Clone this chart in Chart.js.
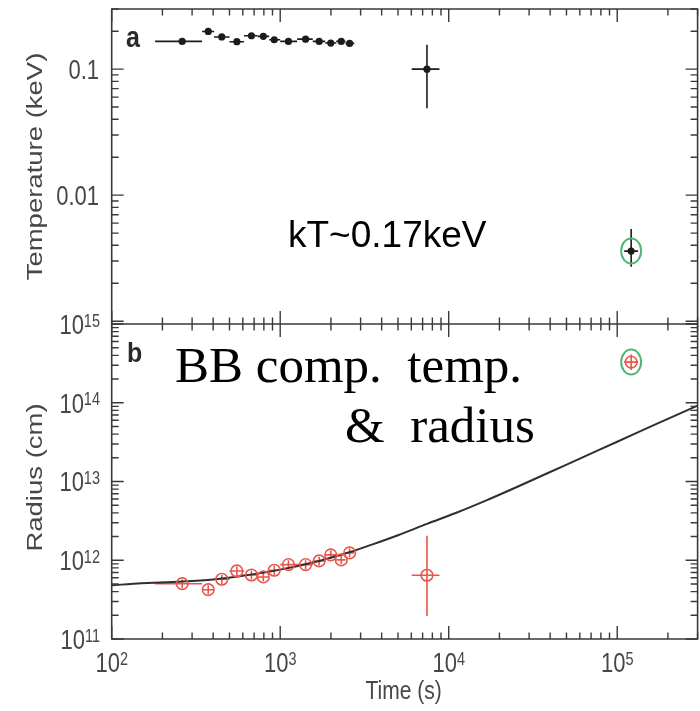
<!DOCTYPE html>
<html>
<head>
<meta charset="utf-8">
<script src="https://cdn.jsdelivr.net/npm/chart.js@4.4.0/dist/chart.umd.min.js"></script>
<style>
  html, body { margin: 0; padding: 0; background: #fff; overflow: hidden; }
  canvas { display: block; }
</style>
</head>
<body>
<canvas id="bb" width="705" height="711"></canvas>
<script>
// observation times (s) and the time bins they cover
const times = [262, 374, 450, 553, 675, 794, 922, 1119, 1415, 1703, 1995, 2303, 2582, 7430, 121000];
const binLo = [181, 344, 405, 500, 610, 735, 860, 1000, 1260, 1560, 1850, 2150, 2440, 6030, 110000];
const binHi = [344, 405, 500, 610, 735, 860, 1000, 1260, 1560, 1850, 2150, 2440, 2750, 8810, 133000];

// blackbody temperature (keV)
const kT   = [0.166, 0.199, 0.180, 0.165, 0.184, 0.182, 0.171, 0.166, 0.173, 0.166, 0.161, 0.166, 0.160, 0.100, 0.0036];
const kTLo = [0.160, 0.192, 0.173, 0.158, 0.177, 0.175, 0.164, 0.159, 0.166, 0.159, 0.154, 0.159, 0.153, 0.049, 0.0027];
const kTHi = [0.172, 0.206, 0.187, 0.172, 0.191, 0.189, 0.178, 0.173, 0.180, 0.173, 0.168, 0.173, 0.167, 0.156, 0.0054];

// blackbody radius (cm)
const radius = [5.04e11, 4.23e11, 5.74e11, 7.31e11, 6.5e11, 6.14e11, 7.46e11, 8.8e11, 8.8e11, 9.8e11, 1.17e12, 1.01e12, 1.24e12, 6.45e11, 3.28e14];
const radLo  = [4.4e11, 3.7e11, 5.0e11, 6.4e11, 5.7e11, 5.4e11, 6.5e11, 7.7e11, 7.7e11, 8.6e11, 1.03e12, 0.89e12, 1.09e12, 1.96e11, 2.6e14];
const radHi  = [5.7e11, 4.8e11, 6.5e11, 8.3e11, 7.4e11, 7.0e11, 8.5e11, 1.0e12, 1.0e12, 1.11e12, 1.33e12, 1.15e12, 1.41e12, 2.04e12, 4.1e14];

// late observation marked with a ring
const ringed = [14];

// expanding-photosphere model curve
const modelTime   = [100, 150, 250, 400, 600, 1000, 1700, 2600, 3500, 5000, 7500, 11000, 17000, 25000, 40000, 60000, 100000, 170000, 300000];
const modelRadius = [4.81e11, 5.1e11, 5.35e11, 5.7e11, 6.35e11, 7.6e11, 9.8e11, 1.27e12, 1.58e12, 2.08e12, 2.92e12, 3.98e12, 5.85e12, 8.4e12, 1.32e13, 1.95e13, 3.2e13, 5.35e13, 9.2e13];

// axis labels
const xMajor = [1e2, 1e3, 1e4, 1e5];
const xMajorExp = ['2', '3', '4', '5'];
const tempMajor = [0.01, 0.1];
const tempLabels = ['0.01', '0.1'];
const radMajor = [1e11, 1e12, 1e13, 1e14, 1e15];
const radExp = ['11', '12', '13', '14', '15'];

const RED = '#e8554c';
const GREEN = '#52b677';
const AXIS = '#3a3a3a';
const LABEL = '#474747';
const SANS = '"Liberation Sans", Arial, sans-serif';

function pts(ys) { return times.map((t, i) => ({ x: t, y: ys[i] })); }

function logSteps(min, max) {
  const out = [];
  for (let e = Math.floor(Math.log10(min)); e <= Math.ceil(Math.log10(max)); e++) {
    for (let m = 1; m < 10; m++) {
      const v = m * Math.pow(10, e);
      if (v >= min * 0.999 && v <= max * 1.001) out.push({ v: v, major: m === 1 });
    }
  }
  return out;
}

// text squeezed like the original figure lettering
function tallText(ctx, str, x, y, sy, align) {
  ctx.save();
  ctx.translate(x, y);
  ctx.scale(1, sy);
  ctx.textAlign = align;
  ctx.textBaseline = 'alphabetic';
  ctx.fillText(str, 0, 0);
  ctx.restore();
}

const errorBars = {
  id: 'errorBars',
  beforeDatasetsDraw(chart) {
    const ctx = chart.ctx;
    const xs = chart.scales.x;
    chart.data.datasets.forEach(ds => {
      if (!ds.yLo) return;
      const ys = chart.scales[ds.yAxisID];
      ctx.save();
      ctx.strokeStyle = ds.borderColor;
      ctx.lineWidth = 1.6;
      ds.data.forEach((p, i) => {
        const px = xs.getPixelForValue(p.x);
        const py = ys.getPixelForValue(p.y);
        ctx.beginPath();
        ctx.moveTo(xs.getPixelForValue(binLo[i]), py);
        ctx.lineTo(xs.getPixelForValue(binHi[i]), py);
        ctx.moveTo(px, ys.getPixelForValue(ds.yLo[i]));
        ctx.lineTo(px, ys.getPixelForValue(ds.yHi[i]));
        ctx.stroke();
      });
      ctx.restore();
    });
  },
  afterDatasetsDraw(chart) {
    const ctx = chart.ctx;
    const xs = chart.scales.x;
    ctx.save();
    ctx.strokeStyle = GREEN;
    ctx.lineWidth = 2;
    ringed.forEach(i => {
      [[kT, 'yT'], [radius, 'yR']].forEach(([vals, id]) => {
        const px = xs.getPixelForValue(times[i]);
        const py = chart.scales[id].getPixelForValue(vals[i]);
        ctx.beginPath();
        ctx.ellipse(px, py, 10, 12.5, 0, 0, Math.PI * 2);
        ctx.stroke();
      });
    });
    ctx.restore();
  }
};

const frame = {
  id: 'frame',
  afterDraw(chart) {
    const ctx = chart.ctx;
    const xs = chart.scales.x, yT = chart.scales.yT, yR = chart.scales.yR;
    const L = xs.left, R = xs.right;
    const top = yT.top, mid = yT.bottom, bot = yR.bottom;
    ctx.save();
    ctx.strokeStyle = AXIS;
    ctx.lineWidth = 1.6;
    ctx.beginPath();
    ctx.rect(L, top, R - L, bot - top);
    ctx.moveTo(L, mid); ctx.lineTo(R, mid);
    ctx.stroke();

    // time ticks on the top, the divider and the bottom
    ctx.lineWidth = 1.4;
    ctx.beginPath();
    logSteps(xs.min, xs.max).forEach(t => {
      const px = xs.getPixelForValue(t.v);
      const len = t.major ? 13 : 6.5;
      ctx.moveTo(px, top); ctx.lineTo(px, top + len);
      ctx.moveTo(px, mid - len); ctx.lineTo(px, mid + len);
      ctx.moveTo(px, bot); ctx.lineTo(px, bot - len);
    });
    // value ticks on both sides of each panel
    [yT, yR].forEach(ys => {
      logSteps(ys.min, ys.max).forEach(t => {
        const py = ys.getPixelForValue(t.v);
        const len = t.major ? 12 : 7;
        ctx.moveTo(L, py); ctx.lineTo(L + len, py);
        ctx.moveTo(R, py); ctx.lineTo(R - len, py);
      });
    });
    ctx.stroke();

    ctx.fillStyle = LABEL;
    const sy = 1.25;
    // temperature labels
    ctx.font = '22px ' + SANS;
    tempMajor.forEach((v, i) => {
      tallText(ctx, tempLabels[i], 99, yT.getPixelForValue(v) + 9.8, sy, 'right');
    });
    // radius labels as powers of ten
    radMajor.forEach((v, i) => {
      const py = yR.getPixelForValue(v);
      ctx.font = '14.5px ' + SANS;
      const ew = ctx.measureText(radExp[i]).width;
      tallText(ctx, radExp[i], 100, py + 2.5, sy, 'right');
      ctx.font = '22px ' + SANS;
      tallText(ctx, '10', 100 - ew, py + 9.8, sy, 'right');
    });
    // time labels
    xMajor.forEach((v, i) => {
      const px = xs.getPixelForValue(v);
      ctx.font = '22px ' + SANS;
      const bw = ctx.measureText('10').width;
      ctx.font = '14.5px ' + SANS;
      const ew = ctx.measureText(xMajorExp[i]).width;
      const x0 = px - (bw + ew) / 2;
      tallText(ctx, xMajorExp[i], x0 + bw, 664.5, sy, 'left');
      ctx.font = '22px ' + SANS;
      tallText(ctx, '10', x0, 671.5, sy, 'left');
    });

    // axis titles
    ctx.font = '21px ' + SANS;
    tallText(ctx, 'Time (s)', (L + R) / 2 - 1, 699, sy, 'center');
    ctx.font = '22px ' + SANS;
    [['Temperature (keV)', (top + mid) / 2], ['Radius (cm)', (mid + bot) / 2 - 4]].forEach(([s, cy]) => {
      ctx.save();
      ctx.translate(42, cy);
      ctx.rotate(-Math.PI / 2);
      ctx.scale(1.25, 1);
      ctx.textAlign = 'center';
      ctx.fillText(s, 0, 0);
      ctx.restore();
    });

    // panel letters
    ctx.fillStyle = '#2a2a2a';
    ctx.font = 'bold 25px ' + SANS;
    tallText(ctx, 'a', 126, 47, 1.2, 'left');
    tallText(ctx, 'b', 127, 362, 1.1, 'left');

    // annotations
    ctx.fillStyle = '#000';
    ctx.font = '37px ' + SANS;
    ctx.textAlign = 'left';
    ctx.fillText('kT~0.17keV', 288, 247);
    ctx.font = '51px "Liberation Serif", "Times New Roman", serif';
    ctx.fillText('BB comp.  temp.', 175, 382);
    ctx.fillText('&  radius', 345, 442);
    ctx.restore();
  }
};

const hiddenAxis = {
  ticks: { display: false },
  grid: { display: false },
  border: { display: false }
};

new Chart(document.getElementById('bb'), {
  type: 'scatter',
  data: {
    datasets: [
      {
        label: 'Radius',
        data: pts(radius),
        yAxisID: 'yR',
        yLo: radLo,
        yHi: radHi,
        borderColor: RED,
        backgroundColor: 'rgba(0,0,0,0)',
        pointRadius: 5.8,
        pointBorderWidth: 1.6
      },
      {
        label: 'Temperature',
        data: pts(kT),
        yAxisID: 'yT',
        yLo: kTLo,
        yHi: kTHi,
        borderColor: '#1c1c1c',
        backgroundColor: '#1c1c1c',
        pointRadius: 3.6,
        pointBorderWidth: 0
      },
      {
        label: 'Model',
        data: modelTime.map((t, i) => ({ x: t, y: modelRadius[i] })),
        yAxisID: 'yR',
        showLine: true,
        borderColor: '#2f2f2f',
        borderWidth: 2,
        pointRadius: 0,
        tension: 0.3
      }
    ]
  },
  options: {
    responsive: false,
    animation: false,
    devicePixelRatio: 1,
    events: [],
    layout: { padding: { top: 9, left: 0, right: 2, bottom: 0 } },
    plugins: { legend: { display: false }, tooltip: { enabled: false } },
    scales: {
      x: Object.assign({
        type: 'logarithmic', position: 'bottom', min: 100, max: 3e5,
        afterFit: s => { s.height = 72; }
      }, hiddenAxis),
      yR: Object.assign({
        type: 'logarithmic', position: 'left', stack: 'panels', stackWeight: 1,
        min: 1e11, max: 1e15,
        afterFit: s => { s.width = 111.7; }
      }, hiddenAxis),
      yT: Object.assign({
        type: 'logarithmic', position: 'left', stack: 'panels', stackWeight: 1,
        min: 0.00095, max: 0.3,
        afterFit: s => { s.width = 111.7; }
      }, hiddenAxis)
    }
  },
  plugins: [errorBars, frame]
});
</script>
</body>
</html>
